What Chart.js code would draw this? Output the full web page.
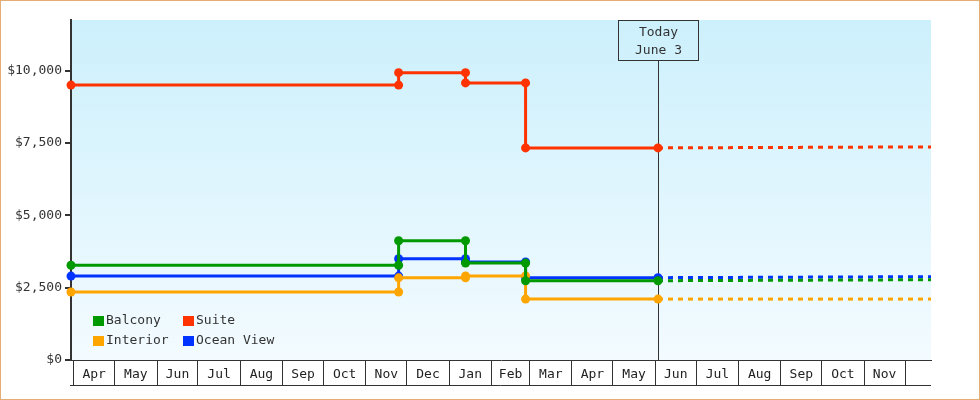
<!DOCTYPE html>
<html>
<head>
<meta charset="utf-8">
<script src="https://cdn.jsdelivr.net/npm/chart.js@4.4.1/dist/chart.umd.min.js"></script>
<style>
body { margin: 0; background: #fff; }
canvas { display: block; }
</style>
</head>
<body>
<canvas id="myChart" width="980" height="400"></canvas>
<script>
const startDate = '2022-03-30';
const endDate = '2023-12-20';
const todayDate = '2023-06-03';
const todayLabel = ['Today', 'June 3'];

const monthStarts = ['2022-04-01', '2022-05-01', '2022-06-01', '2022-07-01', '2022-08-01', '2022-09-01',
    '2022-10-01', '2022-11-01', '2022-12-01', '2023-01-01', '2023-02-01', '2023-03-01', '2023-04-01',
    '2023-05-01', '2023-06-01', '2023-07-01', '2023-08-01', '2023-09-01', '2023-10-01', '2023-11-01', '2023-12-01'];
const monthLabels = ['Apr', 'May', 'Jun', 'Jul', 'Aug', 'Sep', 'Oct', 'Nov', 'Dec', 'Jan',
    'Feb', 'Mar', 'Apr', 'May', 'Jun', 'Jul', 'Aug', 'Sep', 'Oct', 'Nov'];
const yTicks = [0, 2500, 5000, 7500, 10000];

const seriesNames = ['Balcony', 'Suite', 'Interior', 'Ocean View'];
const seriesColors = ['#009900', '#ff3300', '#ffa500', '#0033ff'];

// price history, each change has the old and the new price on the same day
const historyDates = ['2022-03-30', '2022-11-25', '2022-11-25', '2023-01-13', '2023-01-13', '2023-02-26', '2023-02-26', '2023-06-03'];
const balconyPrices = [3275, 3275, 4120, 4120, 3350, 3350, 2740, 2740];
const suitePrices = [9500, 9500, 9930, 9930, 9575, 9575, 7330, 7330];
const interiorPrices = [2350, 2350, 2840, 2840, 2905, 2905, 2105, 2105];
const oceanViewPrices = [2900, 2900, 3500, 3500, 3385, 3385, 2845, 2845];

const forecastDates = ['2023-06-03', '2023-12-20'];
const balconyForecast = [2740, 2775];
const suiteForecast = [7330, 7365];
const interiorForecast = [2105, 2105];
const oceanViewForecast = [2845, 2880];

const historyPrices = [balconyPrices, suitePrices, interiorPrices, oceanViewPrices];
const forecastPrices = [balconyForecast, suiteForecast, interiorForecast, oceanViewForecast];

function day(s) {
    const p = s.split('-').map(Number);
    return Date.UTC(p[0], p[1] - 1, p[2]) / 86400000;
}

Chart.defaults.font.family = "'DejaVu Sans Mono', monospace";
Chart.defaults.font.size = 13;
Chart.defaults.color = '#333';

const datasets = [];
seriesNames.forEach((name, i) => {
    datasets.push({
        label: name,
        data: historyDates.map((d, k) => ({ x: day(d), y: historyPrices[i][k] })),
        borderColor: seriesColors[i],
        backgroundColor: seriesColors[i],
        borderWidth: 3,
        pointRadius: 4.5,
        pointHoverRadius: 4.5,
        pointBorderWidth: 0,
        clip: false
    });
    datasets.push({
        label: name + ' forecast',
        data: forecastDates.map((d, k) => ({ x: day(d), y: forecastPrices[i][k] })),
        borderColor: seriesColors[i],
        borderWidth: 3,
        borderDash: [5, 5],
        pointRadius: 0,
        clip: false
    });
});

const decor = {
    id: 'decor',
    beforeDraw(chart) {
        const { ctx, chartArea: a } = chart;
        ctx.save();
        ctx.fillStyle = '#fff';
        ctx.fillRect(0, 0, chart.width, chart.height);
        const g = ctx.createLinearGradient(0, a.top, 0, a.bottom);
        g.addColorStop(0, '#ccf0fc');
        g.addColorStop(1, '#f3fbff');
        ctx.fillStyle = g;
        ctx.fillRect(a.left, a.top, a.right - a.left, a.bottom - a.top);
        ctx.restore();
    },
    beforeDatasetsDraw(chart) {
        const { ctx, chartArea: a } = chart;
        const x = Math.round(chart.scales.x.getPixelForValue(day(todayDate))) + 0.5;
        ctx.save();
        ctx.strokeStyle = '#333';
        ctx.lineWidth = 1;
        ctx.strokeRect(x - 40, a.top + 0.5, 80, 40);
        ctx.beginPath();
        ctx.moveTo(x, a.top + 40.5);
        ctx.lineTo(x, a.bottom);
        ctx.stroke();
        ctx.fillStyle = '#333';
        ctx.textAlign = 'center';
        ctx.textBaseline = 'middle';
        ctx.font = "13px 'DejaVu Sans Mono', monospace";
        ctx.fillText(todayLabel[0], x, a.top + 13);
        ctx.fillText(todayLabel[1], x, a.top + 31);
        ctx.restore();
    },
    afterDraw(chart) {
        const { ctx, chartArea: a } = chart;
        const xs = chart.scales.x;
        ctx.save();
        // bottom line of the month boxes
        ctx.strokeStyle = '#333';
        ctx.lineWidth = 1;
        ctx.beginPath();
        ctx.moveTo(a.left - 1, xs.top + 25.5);
        ctx.lineTo(a.right, xs.top + 25.5);
        ctx.stroke();
        // legend
        ctx.font = "13px 'DejaVu Sans Mono', monospace";
        ctx.textBaseline = 'middle';
        seriesNames.forEach((name, i) => {
            const lx = a.left + 22 + (i % 2) * 90;
            const ly = a.bottom - 44 + Math.floor(i / 2) * 20;
            ctx.fillStyle = seriesColors[i];
            ctx.fillRect(lx, ly, 11, 10);
            ctx.fillStyle = '#333';
            ctx.fillText(name, lx + 13, ly + 5);
        });
        // outer frame
        ctx.strokeStyle = '#e6ad72';
        ctx.strokeRect(0.5, 0.5, chart.width - 1, chart.height - 1);
        ctx.restore();
    }
};

new Chart(document.getElementById('myChart'), {
    type: 'line',
    data: { datasets: datasets },
    options: {
        responsive: false,
        animation: false,
        devicePixelRatio: 1,
        layout: { padding: { top: 20, right: 49, left: 0, bottom: 0 } },
        plugins: { legend: { display: false }, tooltip: { enabled: false } },
        events: [],
        scales: {
            x: {
                type: 'linear',
                min: day(startDate),
                max: day(endDate),
                afterBuildTicks: scale => {
                    const t = [];
                    monthStarts.forEach((d, i) => {
                        t.push({ value: day(d), sep: true, name: '' });
                        if (i < monthLabels.length) {
                            t.push({ value: (day(d) + day(monthStarts[i + 1])) / 2, sep: false, name: monthLabels[i] });
                        }
                    });
                    scale.ticks = t;
                },
                afterFit: scale => { scale.height = 40; },
                ticks: {
                    autoSkip: false,
                    maxRotation: 0,
                    minRotation: 0,
                    padding: -18,
                    color: '#222',
                    callback: (v, i, ticks) => ticks[i].name
                },
                grid: {
                    drawOnChartArea: false,
                    tickLength: 25,
                    lineWidth: 1,
                    tickColor: c => (c.tick && c.tick.sep) ? '#333' : 'rgba(0,0,0,0)'
                },
                border: { color: '#333', width: 1 }
            },
            y: {
                min: 0,
                max: 11750,
                afterBuildTicks: scale => { scale.ticks = yTicks.map(v => ({ value: v })); },
                afterFit: scale => { scale.width = 71; },
                ticks: {
                    padding: 3,
                    color: '#333',
                    callback: v => '$' + v.toLocaleString('en-US')
                },
                grid: { drawOnChartArea: false, tickLength: 6, lineWidth: 2, tickColor: '#333' },
                border: { color: '#333', width: 2 }
            }
        }
    },
    plugins: [decor]
});
</script>
</body>
</html>
